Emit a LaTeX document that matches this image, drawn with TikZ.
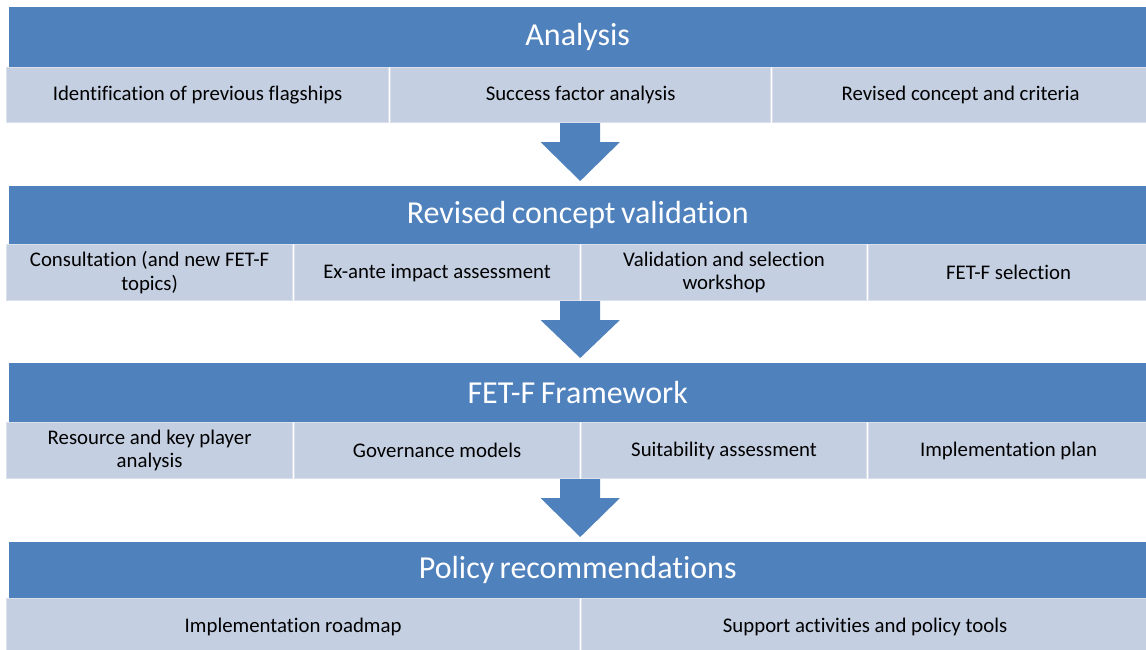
\documentclass[tikz,border=0pt]{standalone}
\usepackage{fontspec}
\setmainfont{Carlito}[RawFeature={-liga}]
\usetikzlibrary{calc}
\definecolor{hdrblue}{HTML}{4F81BD}
\definecolor{subblue}{HTML}{C4CFE2}
\definecolor{subline}{HTML}{DAE0EC}
\newcommand{\hdrfont}{\fontsize{32}{36}\selectfont\spaceskip=0.17em\relax}
\tikzset{
  header/.style={fill=hdrblue, text=white, anchor=north west, inner sep=0pt,
                 minimum width=1137pt, font=\hdrfont},
  subbox/.style={fill=subblue, draw=subline, line width=1.2pt, anchor=north west,
                 inner sep=0pt, align=center, text=black,
                 font=\fontsize{20.8}{23.5}\selectfont},
  blockarrow/.style={fill=hdrblue},
}

\begin{document}
\begin{tikzpicture}[x=1pt, y=-1pt]
      \useasboundingbox (0, 0) rectangle (1146, 650);
      % Analysis
      \node[header, minimum height=60pt] (h1) at (9, 7) {Analysis};
      \node[subbox, minimum width=382pt, minimum height=55pt] (s1a) at (6, 67) {Identification of previous flagships};
      \node[subbox, minimum width=380pt, minimum height=55pt] (s1b) at (390, 67) {Success factor analysis};
      \node[subbox, minimum width=376pt, minimum height=55pt] (s1c) at (772, 67) {Revised concept and criteria};
      % Revised concept validation
      \node[header, minimum height=58pt] (h2) at (9, 186) {Revised concept validation};
      \node[subbox, minimum width=286pt, minimum height=56pt] (s2a) at (6, 244) {Consultation (and new FET-F\\topics)};
      \node[subbox, minimum width=285pt, minimum height=56pt] (s2b) at (294, 244) {Ex-ante impact assessment};
      \node[subbox, minimum width=285pt, minimum height=56pt] (s2c) at (581, 244) {Validation and selection\\workshop};
      \node[subbox, minimum width=280pt, minimum height=56pt] (s2d) at (868, 244) {FET-F selection};
      % FET-F Framework
      \node[header, minimum height=59pt] (h3) at (9, 363) {FET-F Framework};
      \node[subbox, minimum width=286pt, minimum height=56pt] (s3a) at (6, 422) {Resource and key player\\analysis};
      \node[subbox, minimum width=285pt, minimum height=56pt] (s3b) at (294, 422) {Governance models};
      \node[subbox, minimum width=285pt, minimum height=56pt] (s3c) at (581, 422) {Suitability assessment};
      \node[subbox, minimum width=280pt, minimum height=56pt] (s3d) at (868, 422) {Implementation plan};
      % Policy recommendations
      \node[header, minimum height=56pt] (h4) at (9, 542) {Policy recommendations};
      \node[subbox, minimum width=573pt, minimum height=56pt] (s4a) at (6, 598) {Implementation roadmap};
      \node[subbox, minimum width=567pt, minimum height=56pt] (s4b) at (581, 598) {Support activities and policy tools};
      % block arrows between the stages
      \foreach \s/\h in {s1a/h2, s2a/h3, s3a/h4} {
        \coordinate (tip) at ($(\h.north)+(2.5, -5)$);
        \coordinate (top) at (tip |- \s.south);
        \fill[blockarrow] ($(top)+(-20, 0)$) -- ($(top)+(20, 0)$) -- ($(top)+(20, 19)$)
          -- ($(top)+(39.5, 19)$) -- (tip) -- ($(top)+(-39.5, 19)$) -- ($(top)+(-20, 19)$) -- cycle;
      }
    \end{tikzpicture}
\end{document}
